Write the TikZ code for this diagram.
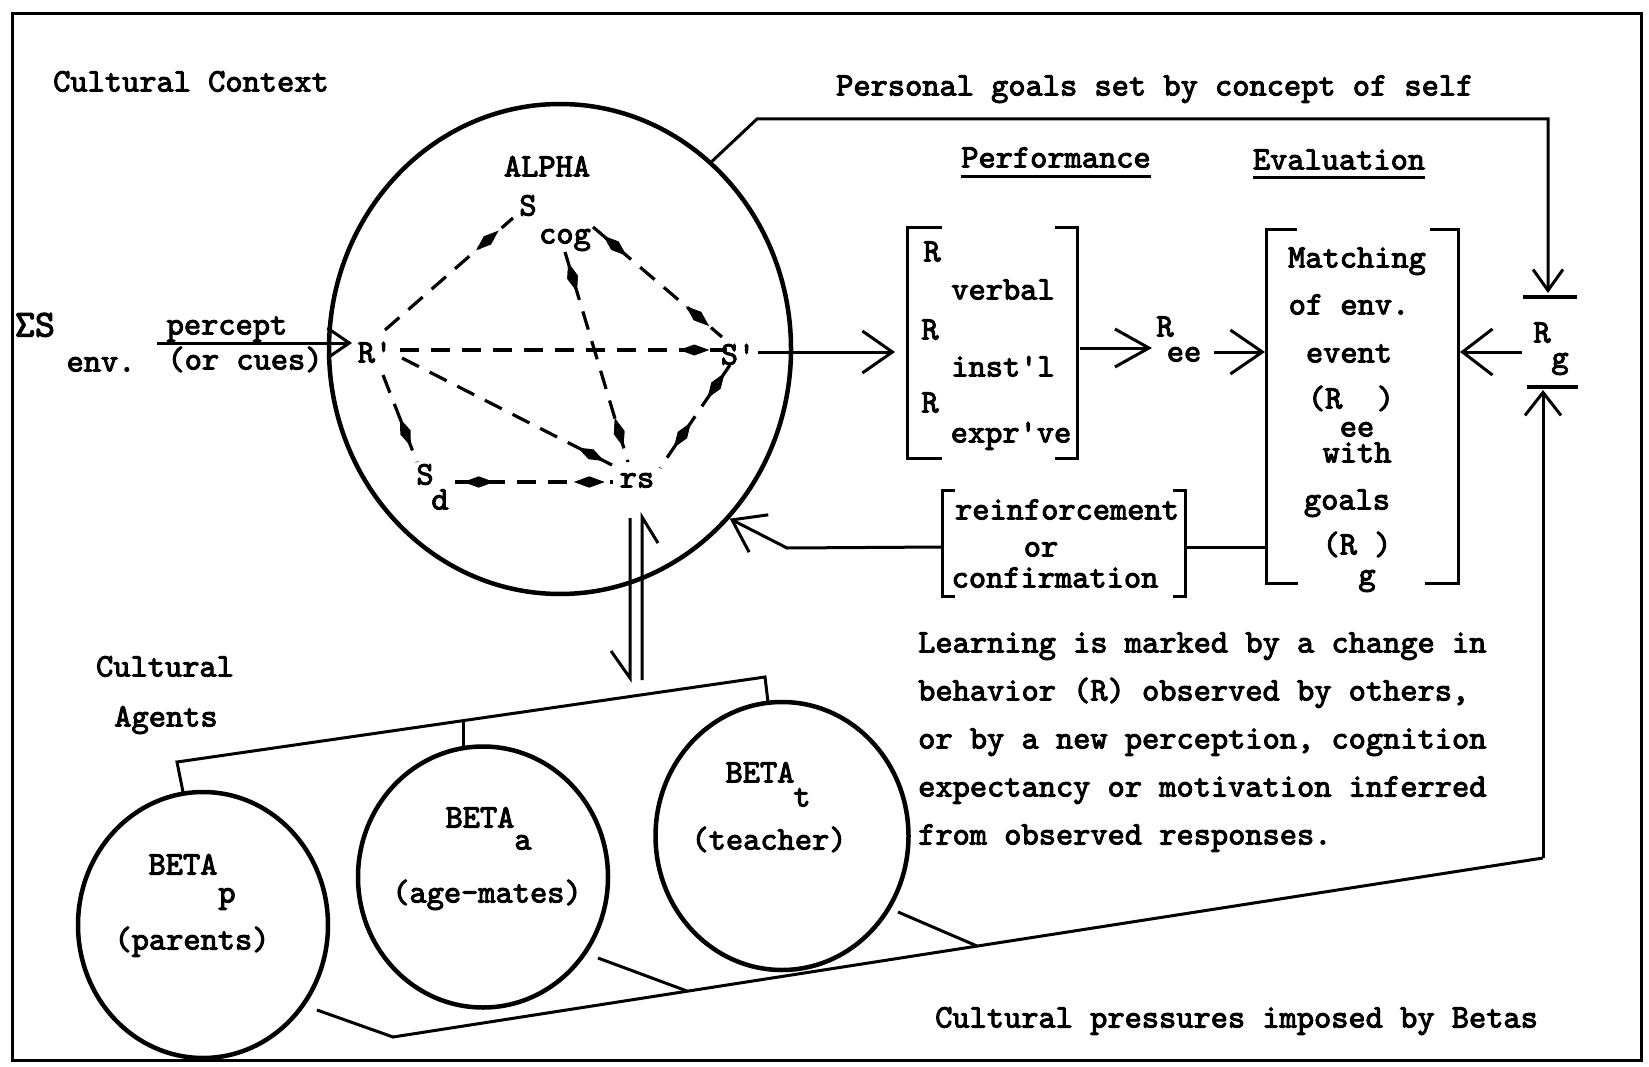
\documentclass[tikz,border=0pt]{standalone}
\usepackage{fontspec}
\newfontfamily\twfam{lmmono10-regular.otf}[FakeBold=3]
\usetikzlibrary{arrows.meta,shapes.geometric,decorations.markings,calc}
\newcommand{\twfont}{\twfam\fontsize{32.8}{38}\selectfont}
\newcommand{\bigtw}{\twfam\fontsize{38}{42}\selectfont}
\begin{document}
\begin{tikzpicture}[x=1pt,y=-1pt,
  lbl/.style={inner sep=0pt, font=\twfont, text height=19pt, text depth=0pt},
  ln/.style={line width=3pt},
  ring/.style={ellipse, draw, line width=4.5pt, inner sep=0pt},
  dsh/.style={line width=3.2pt, dash pattern=on 19pt off 12pt},
  lozmark/.style={postaction={decorate},
    decoration={markings, mark=at position #1 with {\fill (15pt,0pt) -- (0pt,5.5pt) -- (-15pt,0pt) -- (0pt,-5.5pt) -- cycle;}}},
  oarr/.style 2 args={-{Straight Barb[length=#1pt,width=#2pt]}},
  brk/.style={inner sep=0pt}
]
\useasboundingbox (0,0) rectangle (1649,1067);
\fill[white] (0,0) rectangle (1649,1067);
% frame
\draw[line width=3pt] (12,14) rectangle (1641,1060);

% ---------- texts top
\node[lbl, anchor=west] (ctx) at (53,82) {Cultural Context};
\node[lbl, anchor=west] (pgoals) at (836,86) {Personal goals set by concept of self};

% ---------- ALPHA
\node[ring, minimum width=462pt, minimum height=490pt] (alpha) at (560,349) {};
\node[lbl] (alphat) at (547,167) {ALPHA};
\node[lbl] (scog) at (528,206) {S};
\node[lbl] (cog) at (565,234) {cog};
\node[lbl] (rp) at (375,353) {R\textquotesingle};
\node[lbl] (sp) at (738,355) {S\textquotesingle};
\node[lbl] (rs) at (637,478) {rs};
\node[lbl] (sd) at (425,475) {S};
\node[lbl] (sdd) at (440,500) {d};

% endpoints of dashed relations
\coordinate (e1a) at (385,330); \coordinate (e1b) at (513,218);
\coordinate (e2a) at (593,227); \coordinate (e2b) at (722,337);
\coordinate (e3a) at (565,252); \coordinate (e3b) at (628,462);
\coordinate (e4a) at (400,350); \coordinate (e4b) at (727,350);
\coordinate (e5a) at (402,358); \coordinate (e5b) at (612,465);
\coordinate (e6a) at (383,375); \coordinate (e6b) at (417,462);
\coordinate (e7a) at (455,482); \coordinate (e7b) at (613,482);
\coordinate (e8a) at (730,365); \coordinate (e8b) at (660,468);
\draw[dsh, lozmark=0.8] (e1a) -- (e1b);
\draw[dsh, lozmark=0.17, lozmark=0.81] (e2a) -- (e2b);
\draw[dsh, lozmark=0.12, lozmark=0.86] (e3a) -- (e3b);
\draw[dsh, lozmark=0.9] (e4a) -- (e4b);
\draw[dsh, lozmark=0.9] (e5a) -- (e5b);
\draw[dsh, lozmark=0.66] (e6a) -- (e6b);
\draw[dsh, lozmark=0.15, lozmark=0.85] (e7a) -- (e7b);
\draw[dsh, lozmark=0.2, lozmark=0.68] (e8a) -- (e8b);

% ---------- environment input
\node[inner sep=0pt, font=\bigtw, text height=23pt, text depth=0pt] (sig) at (35,325) {ΣS};
\node[lbl] (env) at (101,362) {env.};
\node[lbl] (perc) at (227,325) {percept};
\node[lbl] (cues) at (245,360) {(or cues)};
\coordinate (pin) at (157,343);
\coordinate (ptip) at (352,343);
\draw[ln, oarr={22}{30}] (pin) -- (ptip);

% ---------- performance
\node[lbl] (perfh) at (1056,158) {Performance};
\draw[line width=2.5pt] ([yshift=-9pt]perfh.base west) -- ([yshift=-9pt]perfh.base east);
\node[brk, minimum width=169pt, minimum height=230pt] (perf) at (992.5,343) {};
\draw[ln] ([xshift=34pt]perf.north west) -- (perf.north west) -- (perf.south west) -- ([xshift=34pt]perf.south west);
\draw[ln] ([xshift=-22pt]perf.north east) -- (perf.north east) -- (perf.south east) -- ([xshift=-22pt]perf.south east);
\node[lbl] (r1) at (932,252) {R};
\node[lbl] (verbal) at (1003,290) {verbal};
\node[lbl] (r2) at (930,330) {R};
\node[lbl] (instl) at (1003,367) {inst\textquotesingle l};
\node[lbl] (r3) at (930,403) {R};
\node[lbl] (exprve) at (1011,433) {expr\textquotesingle ve};

\coordinate (spout) at (758,352);
\coordinate (perfin) at (895,352);
\draw[ln, oarr={30}{42}] (spout) -- (perfin);

% ---------- R_ee
\coordinate (perfout) at (1080,348);
\coordinate (reein) at (1152,348);
\draw[ln, oarr={34}{38}] (perfout) -- (reein);
\node[lbl] (reeR) at (1165,327) {R};
\node[lbl] (reeE) at (1184,352) {ee};
\coordinate (reeout) at (1214,352);
\coordinate (evalin) at (1265,352);
\draw[ln, oarr={32}{44}] (reeout) -- (evalin);

% ---------- evaluation
\node[lbl] (evalh) at (1339,160) {Evaluation};
\draw[line width=2.5pt] ([yshift=-8pt]evalh.base west) -- ([yshift=-8pt]evalh.base east);
\node[brk, minimum width=191pt, minimum height=353pt] (eval) at (1362.5,406.5) {};
\draw[ln] ([xshift=30pt]eval.north west) -- (eval.north west) -- (eval.south west) -- ([xshift=31pt]eval.south west);
\draw[ln] ([xshift=-28pt]eval.north east) -- (eval.north east) -- (eval.south east) -- ([xshift=-33pt]eval.south east);
\node[lbl] (m1) at (1357,258) {Matching};
\node[lbl] (m2) at (1349,305) {of env.};
\node[lbl] (m3) at (1349,353) {event};
\node[lbl] (m4) at (1351,399) {(R\ \ )};
\node[lbl] (m5) at (1357,427) {ee};
\node[lbl] (m6) at (1357,453) {with};
\node[lbl] (m7) at (1347,500) {goals};
\node[lbl] (m8) at (1357,545) {(R )};
\node[lbl] (m9) at (1367,575) {g};

% ---------- R_g
\node[lbl] (rgR) at (1542,333) {R};
\node[lbl] (rgg) at (1560,358) {g};
\coordinate (rgout) at (1522,352);
\coordinate (evalout) at (1460,352);
\draw[ln, oarr={30}{46}] (rgout) -- (evalout);
\coordinate (bar1a) at (1523,297); \coordinate (bar1b) at (1577,297);
\coordinate (bar2a) at (1527,387); \coordinate (bar2b) at (1578,387);
\draw[line width=3.2pt] (bar1a) -- (bar1b);
\draw[line width=3.2pt] (bar2a) -- (bar2b);

% personal goals loop
\coordinate (tA) at (757,119);
\coordinate (tB) at (1548,119);
\coordinate (tC) at (1548,293);
\draw[ln, oarr={21}{30}] (alpha.51) -- (tA) -- (tB) -- (tC);

% ---------- reinforcement
\node[brk, minimum width=242pt, minimum height=105pt] (reinf) at (1064,543.5) {};
\draw[ln] ([xshift=12pt]reinf.north west) -- (reinf.north west) -- (reinf.south west) -- ([xshift=12pt]reinf.south west);
\draw[ln] ([xshift=-12pt]reinf.north east) -- (reinf.north east) -- (reinf.south east) -- ([xshift=-12pt]reinf.south east);
\node[lbl] (rf1) at (1067,510) {reinforcement};
\node[lbl] (rf2) at (1041,547) {or};
\node[lbl] (rf3) at (1055,578) {confirmation};
\coordinate (evl) at (1267,547);
\coordinate (rfr) at (1185,547);
\draw[ln] (evl) -- (rfr);
\coordinate (rfl) at (943,547);
\coordinate (rfk) at (787,548);
\draw[ln, oarr={30}{42}] (rfl) -- (rfk) -- (alpha.-45);

% ---------- harpoons alpha <-> agents
\coordinate (h1a) at (630,518); \coordinate (h1b) at (630,678); \coordinate (h1c) at (611,651);
\coordinate (h2a) at (642,680); \coordinate (h2b) at (642,517); \coordinate (h2c) at (658,543);
\draw[ln] (h1a) -- (h1b) -- (h1c);
\draw[ln] (h2a) -- (h2b) -- (h2c);

% ---------- cultural agents
\node[lbl] (ca1) at (165,667) {Cultural};
\node[lbl] (ca2) at (166,717) {Agents};
\node[ring, minimum width=250pt, minimum height=266pt] (bp) at (203,925) {};
\node[ring, minimum width=250pt, minimum height=261pt] (ba) at (483,877) {};
\node[ring, minimum width=253pt, minimum height=268pt] (bt) at (782,836) {};
\node[lbl] (bpt) at (183,865) {BETA};
\node[lbl] (bps) at (227,893) {p};
\node[lbl] (bpn) at (192,940) {(parents)};
\node[lbl] (bat) at (480,818) {BETA};
\node[lbl] (bas) at (523,840) {a};
\node[lbl] (ban) at (487,893) {(age-mates)};
\node[lbl] (btt) at (760,773) {BETA};
\node[lbl] (bts) at (802,797) {t};
\node[lbl] (btn) at (769,840) {(teacher)};

\coordinate (gA) at (183,792); \coordinate (gB) at (177,762);
\coordinate (gC) at (765,677); \coordinate (gD) at (768,702);
\coordinate (gE) at (463,721); \coordinate (gF) at (463,747);
\draw[ln] (gA) -- (gB) -- (gC) -- (gD);
\draw[ln] (gE) -- (gF);

% ---------- cultural pressures loop
\coordinate (kA) at (317,1010); \coordinate (kB) at (393,1037);
\coordinate (kC) at (1543,858); \coordinate (kD) at (1543,390);
\draw[ln] (kA) -- (kB) -- (kC);
\draw[ln, oarr={23}{36}] (kC) -- (kD);
\coordinate (aA) at (598,958); \coordinate (aB) at (687,991);
\coordinate (tA2) at (898,912); \coordinate (tB2) at (977,946);
\draw[ln] (aA) -- (aB);
\draw[ln] (tA2) -- (tB2);

% ---------- learning text
\node[lbl, anchor=west] (lr1) at (918,643) {Learning is marked by a change in};
\node[lbl, anchor=west] (lr2) at (918,691) {behavior (R) observed by others,};
\node[lbl, anchor=west] (lr3) at (918,739) {or by a new perception, cognition};
\node[lbl, anchor=west] (lr4) at (918,787) {expectancy or motivation inferred};
\node[lbl, anchor=west] (lr5) at (918,835) {from observed responses.};
\node[lbl, anchor=west] (cpb) at (935,1018) {Cultural pressures imposed by Betas};
\end{tikzpicture}
\end{document}
